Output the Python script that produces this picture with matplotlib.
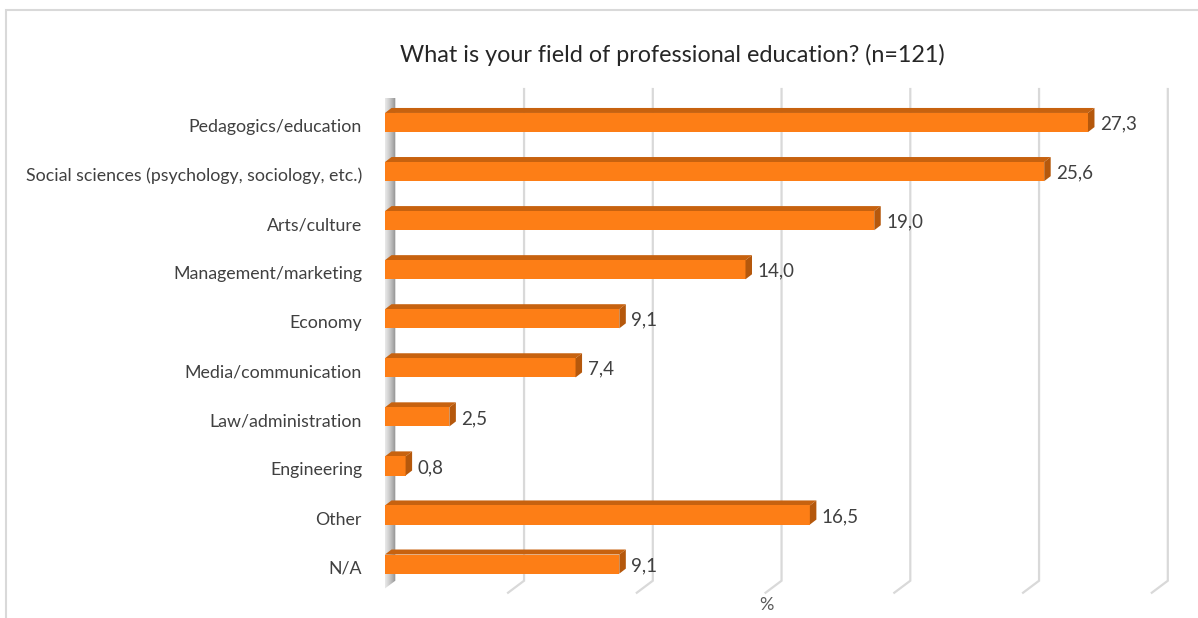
import numpy as np
import matplotlib
matplotlib.use('Agg')
import matplotlib.pyplot as plt
from matplotlib.patches import Polygon, Rectangle

# chart data
categories = ['Pedagogics/education', 'Social sciences (psychology, sociology, etc.)',
              'Arts/culture', 'Management/marketing', 'Economy', 'Media/communication',
              'Law/administration', 'Engineering', 'Other', 'N/A']
values = [27.3, 25.6, 19.0, 14.0, 9.1, 7.4, 2.5, 0.8, 16.5, 9.1]
ticks = [0, 5, 10, 15, 20, 25, 30]
title = 'What is your field of professional education? (n=121)'
axis_title = '%'

plt.rcParams['font.family'] = ['Lato', 'DejaVu Sans']

W, H = 1198, 618
fig = plt.figure(figsize=(W / 100, H / 100), dpi=100)
fig.patch.set_facecolor('white')

# axes placed so the bar front plane lines up with the reference
ax = fig.add_axes([385 / W, (H - 588.6) / H, 772.5 / W, 490.6 / H])
ax.set_xlim(0, 30)
ax.set_ylim(9.5, -0.5)
ax.axis('off')

# pixels -> data units (axes has a fixed size)
sx = 772.5 / 30
sy = 490.6 / 10


def px(dx, dy):
    return dx / sx, dy / sy


bar_d = px(6.5, -5)      # bar depth
back = px(10.3, -7.7)    # back wall plane relative to bar front
front = px(-5.7, 4.3)    # front floor edge relative to bar front
grid_top = (89 - 122.5) / sy
grid_bot = (580.7 - 122.5) / sy

# gridlines on the back wall and the floor
for t in ticks[1:]:
    xb = t + back[0]
    ax.plot([xb, xb, t + front[0]], [grid_top, grid_bot, grid_bot + (front[1] - back[1])],
            color='#D9D9D9', lw=1.6, clip_on=False, zorder=1, solid_joinstyle='miter')

# left side wall with a gray gradient
x0, x1 = front[0], back[0]
wall = Polygon([(x1, grid_top), (x1, grid_bot),
                (x0, grid_bot + (front[1] - back[1])), (x0, grid_top + (front[1] - back[1]))],
               closed=True, facecolor='none', edgecolor='none', transform=ax.transData)
ax.add_patch(wall)
grad = np.linspace(0, 1, 64).reshape(1, -1) ** 1.6
img = ax.imshow(grad, cmap=matplotlib.colors.LinearSegmentedColormap.from_list('w', ['#FFFFFF', '#8F8F8F']),
                extent=(x0, x1, grid_bot + (front[1] - back[1]), grid_top), aspect='auto',
                zorder=2, clip_on=True)
img.set_clip_path(wall)

# 3D bars
h = 0.39
c_front, c_top, c_side = '#FD7E16', '#C7620F', '#B5580C'
y = np.arange(len(values))
ax.barh(y, values, height=h, color=c_front, zorder=4)
for yi, v in zip(y, values):
    yt = yi - h / 2
    yb = yi + h / 2
    ax.add_patch(Polygon([(0, yt), (v, yt), (v + bar_d[0], yt + bar_d[1]), (bar_d[0], yt + bar_d[1])],
                         closed=True, facecolor=c_top, edgecolor='none', zorder=3.5))
    ax.add_patch(Polygon([(v, yt), (v + bar_d[0], yt + bar_d[1]), (v + bar_d[0], yb + bar_d[1]), (v, yb)],
                         closed=True, facecolor=c_side, edgecolor='none', zorder=4.5))
    ax.text(v + 12 / sx, yi + 1.5 / sy, f'{v:.1f}'.replace('.', ','), ha='left', va='center',
            fontsize=13.5, color='#404040', zorder=5)

# category labels
for yi, name in zip(y, categories):
    ax.text(-23 / sx, yi + 4.5 / sy, name, ha='right', va='center', fontsize=12.8, color='#404040')

fig.text(672.5 / W, 1 - 55 / H, title, ha='center', va='center', fontsize=16.8, color='#262626')
fig.text(766 / W, 1 - 605 / H, axis_title, ha='center', va='center', fontsize=13, color='#595959')

# chart area border
fig.add_artist(Rectangle((6 / W, -0.05), 1.1, (H - 10) / H + 0.05, transform=fig.transFigure,
                         facecolor='none', edgecolor='#D9D9D9', lw=1.5))

fig.savefig('out.png', dpi=100)
